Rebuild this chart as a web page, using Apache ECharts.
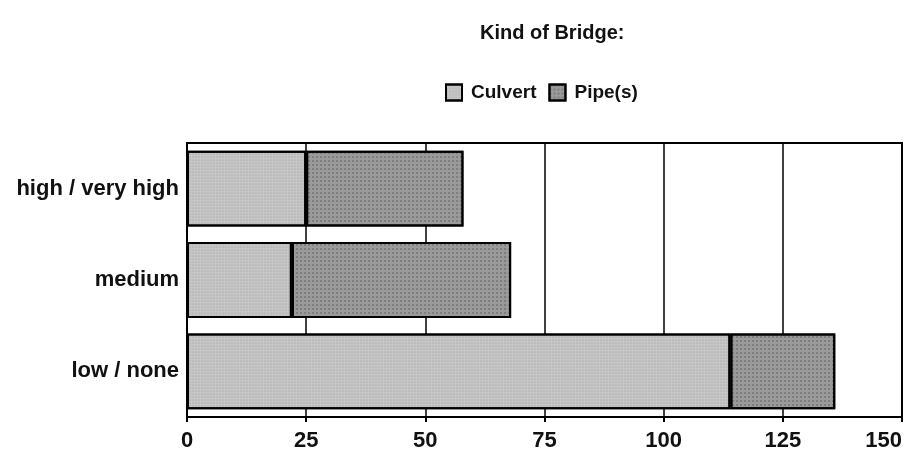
<!DOCTYPE html>
<html>
<head>
<meta charset="utf-8">
<script src="https://cdn.jsdelivr.net/npm/echarts@6/dist/echarts.min.js"></script>
<style>
  html, body { margin: 0; padding: 0; background: #fff; }
  #chart { width: 906px; height: 465px; }
</style>
</head>
<body>
<div id="chart"></div>
<script>
// categories bottom -> top
var categories = ['low / none', 'medium', 'high / very high'];
var culvert = [114, 22, 25];
var pipes = [22, 46, 33];
var xTicks = [0, 25, 50, 75, 100, 125, 150];

var chart = echarts.init(document.getElementById('chart'));
var font = 'Liberation Sans';

var option = {
  backgroundColor: '#fff',
  animation: false,
  textStyle: { fontFamily: font },
  title: {
    text: 'Kind of Bridge:',
    left: 475,
    top: 18,
    textStyle: { fontSize: 20, fontWeight: 'bold', color: '#111', fontFamily: font }
  },
  legend: {
    left: 440,
    top: 78,
    itemWidth: 16,
    itemHeight: 16,
    itemGap: 12,
    icon: 'rect',
    textStyle: { fontSize: 19, fontWeight: 'bold', color: '#111', fontFamily: font, padding: [0, 0, 0, 4] },
    itemStyle: { borderColor: '#000', borderWidth: 2 },
    data: ['Culvert', 'Pipe(s)']
  },
  grid: {
    left: 187,
    right: 4,
    top: 143,
    bottom: 48,
    outerBoundsMode: 'none',
    containLabel: false,
    show: true,
    borderColor: '#000',
    borderWidth: 2
  },
  xAxis: {
    type: 'value',
    min: 0,
    max: 150,
    interval: 25,
    axisLine: { show: true, lineStyle: { color: '#000', width: 2 } },
    axisTick: { show: true, length: 5, lineStyle: { color: '#000', width: 2 } },
    axisLabel: {
      color: '#111', fontSize: 22, fontWeight: 'bold', margin: 13,
      alignMaxLabel: 'right',
      formatter: function (v) { return xTicks.indexOf(v) >= 0 ? String(v) : ''; }
    },
    splitLine: { show: true, lineStyle: { color: '#000', width: 1.5 } }
  },
  yAxis: {
    type: 'category',
    data: categories,
    axisLine: { show: true, lineStyle: { color: '#000', width: 2 } },
    axisTick: { show: false },
    axisLabel: { color: '#111', fontSize: 22, fontWeight: 'bold', margin: 8 }
  },
  series: [
    {
      name: 'Culvert',
      type: 'bar',
      stack: 'bridge',
      barCategoryGap: '17%',
      itemStyle: {
        color: '#c6c6c6',
        borderColor: '#000',
        borderWidth: 2,
        decal: {
          symbol: 'circle',
          symbolSize: 0.6,
          color: 'rgba(120,120,120,0.55)',
          dashArrayX: [2, 1],
          dashArrayY: [2, 1]
        }
      },
      data: culvert
    },
    {
      name: 'Pipe(s)',
      type: 'bar',
      stack: 'bridge',
      itemStyle: {
        color: '#9a9a9a',
        borderColor: '#000',
        borderWidth: 2,
        decal: {
          symbol: 'circle',
          symbolSize: 0.7,
          color: 'rgba(30,30,30,0.6)',
          dashArrayX: [2, 2],
          dashArrayY: [2, 2]
        }
      },
      data: pipes
    }
  ]
};
chart.setOption(option);
</script>
</body>
</html>
